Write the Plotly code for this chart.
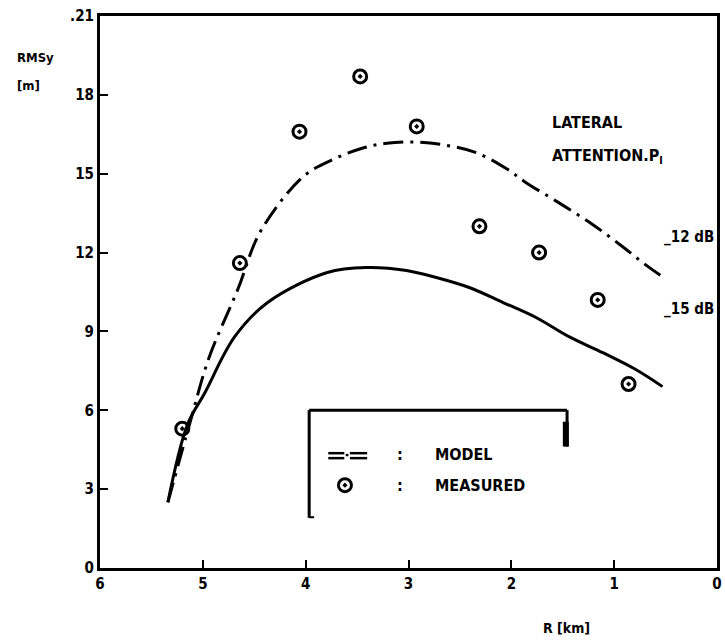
import plotly.graph_objects as go

# Measured lateral RMS error vs. range
measured_r = [5.20, 4.64, 4.06, 3.47, 2.92, 2.31, 1.73, 1.16, 0.86]
measured_rms = [5.3, 11.6, 16.6, 18.7, 16.8, 13.0, 12.0, 10.2, 7.0]

# Model curve, lateral attenuation -12 dB
model12_r = [5.34, 5.12, 4.94, 4.66, 4.44, 4.02, 3.73, 3.45, 3.21, 2.92, 2.63,
             2.34, 2.05, 1.86, 1.54, 1.21, 0.92, 0.70, 0.52]
model12_rms = [2.5, 5.6, 8.0, 10.6, 12.8, 14.9, 15.55, 15.97, 16.16, 16.2, 16.08,
               15.8, 15.2, 14.67, 13.9, 13.07, 12.23, 11.55, 11.05]

# Model curve, lateral attenuation -15 dB
model15_r = [5.34, 5.15, 4.98, 4.69, 4.37, 3.79, 3.41, 3.02, 2.73, 2.41, 2.08,
             1.76, 1.44, 1.11, 0.79, 0.53]
model15_rms = [2.5, 5.45, 6.67, 8.8, 10.1, 11.24, 11.43, 11.32, 11.05, 10.67, 10.1,
               9.53, 8.8, 8.19, 7.55, 6.9]

x_ticks = [6, 5, 4, 3, 2, 1, 0]
y_ticks = [0, 3, 6, 9, 12, 15, 18, 21]
y_ticktext = ["0", "3", "6", "9", "12", "15", "18", ".21"]

FONT = "DejaVu Sans Condensed"
INK = "black"

fig = go.Figure()

fig.add_trace(go.Scatter(
    x=model12_r, y=model12_rms, mode="lines", line_shape="spline",
    line=dict(color=INK, width=3, dash="20px,7px,3px,7px"),
    showlegend=False, hoverinfo="skip"))

fig.add_trace(go.Scatter(
    x=model15_r, y=model15_rms, mode="lines", line_shape="spline",
    line=dict(color=INK, width=3),
    showlegend=False, hoverinfo="skip"))

fig.add_trace(go.Scatter(
    x=measured_r, y=measured_rms, mode="markers",
    marker=dict(symbol="circle-open-dot", size=13, color=INK,
                line=dict(color=INK, width=3)),
    showlegend=False, hoverinfo="skip"))

# overlay axes in paper units for the hand-made key
fig.add_trace(go.Scatter(
    x=[0.397], y=[0.150], xaxis="x2", yaxis="y2", mode="markers",
    marker=dict(symbol="circle-open-dot", size=13, color=INK,
                line=dict(color=INK, width=3)),
    showlegend=False, hoverinfo="skip"))

tick_font = dict(family=FONT, size=15, color=INK, weight="bold")

fig.update_layout(
    width=725, height=640,
    margin=dict(l=100, r=3, t=16, b=72),
    paper_bgcolor="white", plot_bgcolor="white",
    xaxis=dict(range=[6, 0], tickvals=x_ticks, ticks="inside", ticklen=8,
               tickwidth=2, tickcolor=INK, showgrid=False, zeroline=False,
               showline=True, linewidth=3, linecolor=INK, mirror=True,
               tickfont=tick_font),
    yaxis=dict(range=[0, 21], tickvals=y_ticks, ticktext=y_ticktext,
               ticks="inside", ticklen=8, tickwidth=2, tickcolor=INK,
               showgrid=False, zeroline=False, showline=True, linewidth=3,
               linecolor=INK, mirror=True, tickfont=tick_font),
    xaxis2=dict(range=[0, 1], overlaying="x", visible=False, domain=[0, 1]),
    yaxis2=dict(range=[0, 1], overlaying="y", visible=False, domain=[0, 1],
                anchor="x2"),
    showlegend=False,
)


def note(text, x, y, xanchor="left", size=16):
    fig.add_annotation(text=text, x=x, y=y, xref="paper", yref="paper",
                       xanchor=xanchor, yanchor="middle", showarrow=False,
                       font=dict(family=FONT, size=size, color=INK, weight="bold"))


# axis titles
note("RMSy", -0.137, 0.925, size=13)
note("[m]", -0.137, 0.875, size=13)
note("R [km]", 0.756, -0.109, xanchor="center", size=14)

# curve labels
note("LATERAL", 0.73, 0.807)
note("ATTENTION.P<sub>l</sub>", 0.73, 0.745)
note("_12 dB", 0.998, 0.6, xanchor="right", size=15)
note("_15 dB", 0.998, 0.47, xanchor="right", size=15)

# key box (bracket shaped)
box = [
    (0.339, 0.286, 0.757, 0.286),
    (0.339, 0.286, 0.339, 0.091),
    (0.757, 0.286, 0.757, 0.220),
]
for x0, y0, x1, y1 in box:
    fig.add_shape(type="line", xref="paper", yref="paper", x0=x0, y0=y0,
                  x1=x1, y1=y1, line=dict(color=INK, width=3))
fig.add_shape(type="line", xref="paper", yref="paper", x0=0.755, y0=0.265,
              x1=0.755, y1=0.22, line=dict(color=INK, width=6))
fig.add_shape(type="line", xref="paper", yref="paper", x0=0.339, y0=0.092,
              x1=0.347, y1=0.092, line=dict(color=INK, width=2))

# model key glyph: double dashes around a dot
for yy in (0.208, 0.199):
    fig.add_shape(type="line", xref="paper", yref="paper", x0=0.37, y0=yy,
                  x1=0.396, y1=yy, line=dict(color=INK, width=2.5))
    fig.add_shape(type="line", xref="paper", yref="paper", x0=0.405, y0=yy,
                  x1=0.433, y1=yy, line=dict(color=INK, width=2.5))
fig.add_shape(type="circle", xref="paper", yref="paper", x0=0.398, y0=0.202,
              x1=0.403, y1=0.207, fillcolor=INK, line=dict(color=INK, width=0))

note(":", 0.478, 0.205)
note("MODEL", 0.54, 0.205)
note(":", 0.478, 0.150)
note("MEASURED", 0.54, 0.150)

fig.write_html("out.html")
